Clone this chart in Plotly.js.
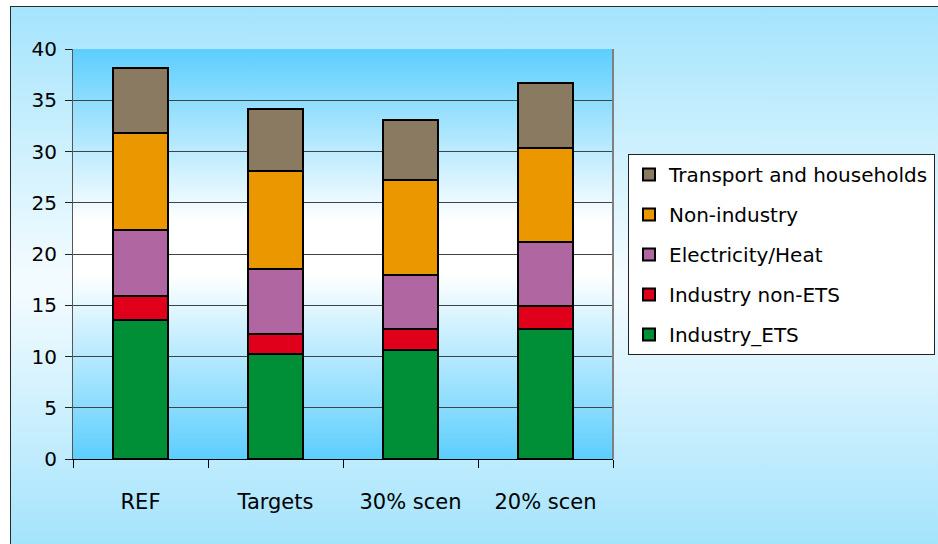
<!DOCTYPE html>
<html>
<head>
<meta charset="utf-8">
<script src="https://cdn.plot.ly/plotly-3.0.1.min.js"></script>
<style>
  html, body { margin: 0; padding: 0; width: 938px; height: 544px; overflow: hidden; background: #ffffff; }
  #frame { position: absolute; left: 10px; top: 6px; width: 940px; height: 550px;
           border: 1px solid #2a2a2a;
           background: linear-gradient(to bottom, #a4e4fc 0%, #f2fbff 48%, #f2fbff 52%, #a0e2fc 100%); }
  #chart { position: absolute; left: 0; top: 0; width: 938px; height: 544px; }
</style>
</head>
<body>
<div id="frame"></div>
<div id="chart"></div>
<script>
const categories = ["REF", "Targets", "30% scen", "20% scen"];
const industryETS = [13.6, 10.2, 10.6, 12.7];
const industryNonETS = [2.3, 2.0, 2.1, 2.2];
const electricityHeat = [6.4, 6.3, 5.3, 6.3];
const nonIndustry = [9.5, 9.6, 9.2, 9.1];
const transportHouseholds = [6.3, 6.0, 5.9, 6.4];

const seriesNames = ["Industry_ETS", "Industry non-ETS", "Electricity/Heat", "Non-industry", "Transport and households"];
const seriesValues = [industryETS, industryNonETS, electricityHeat, nonIndustry, transportHouseholds];
const seriesColors = ["#008f36", "#e1001c", "#b067a1", "#eb9700", "#8a7a61"];

const traces = seriesNames.map((name, i) => ({
  type: "bar",
  name: name,
  x: categories,
  y: seriesValues[i],
  legendgroup: "g" + i,
  legendrank: 1000 - i,
  marker: { color: seriesColors[i], line: { color: "#000000", width: 2 } },
  hoverinfo: "name+y"
}));

const gradSvg = '<svg xmlns="http://www.w3.org/2000/svg" width="100" height="100" preserveAspectRatio="none" viewBox="0 0 100 100">' +
  '<defs><linearGradient id="g" x1="0" y1="0" x2="0" y2="1">' +
  '<stop offset="0" stop-color="#5ccefd"/><stop offset="0.42" stop-color="#ffffff"/>' +
  '<stop offset="0.55" stop-color="#ffffff"/><stop offset="1" stop-color="#5ccefd"/>' +
  '</linearGradient></defs><rect x="0" y="0" width="100" height="100" fill="url(#g)"/></svg>';
const gradUri = "data:image/svg+xml;charset=utf-8," + encodeURIComponent(gradSvg);

const layout = {
  width: 938,
  height: 544,
  margin: { l: 73, r: 325, t: 49, b: 85, pad: 0 },
  paper_bgcolor: "rgba(0,0,0,0)",
  plot_bgcolor: "rgba(0,0,0,0)",
  barmode: "stack",
  bargap: 0.59,
  font: { family: "DejaVu Sans, Verdana, sans-serif", color: "#000000" },
  showlegend: true,
  legend: {
    xref: "container",
    yref: "container",
    x: 628 / 938,
    xanchor: "left",
    y: 1 - 154 / 544,
    yanchor: "top",
    bgcolor: "#ffffff",
    bordercolor: "#222222",
    borderwidth: 1,
    traceorder: "grouped",
    tracegroupgap: 11,
    font: { size: 20, color: "#000000" }
  },
  xaxis: {
    type: "category",
    automargin: false,
    showline: true,
    linecolor: "#000000",
    linewidth: 1,
    ticks: "outside",
    tickson: "boundaries",
    ticklen: 8,
    tickcolor: "#000000",
    tickwidth: 1,
    showgrid: false,
    ticklabelstandoff: 24,
    tickfont: { size: 21, color: "#000000" },
    fixedrange: true
  },
  yaxis: {
    range: [0, 40],
    dtick: 5,
    tick0: 0,
    automargin: false,
    showline: true,
    linecolor: "#555555",
    linewidth: 1,
    ticks: "outside",
    ticklen: 7,
    tickcolor: "#222222",
    showgrid: true,
    gridcolor: "#3f4448",
    gridwidth: 1,
    zeroline: false,
    ticklabelstandoff: 4,
    tickfont: { size: 20, color: "#000000" },
    fixedrange: true
  },
  images: [{
    source: gradUri,
    xref: "x domain", yref: "y domain",
    x: 0, y: 1, sizex: 1, sizey: 1,
    xanchor: "left", yanchor: "top",
    sizing: "stretch",
    layer: "below"
  }],
  shapes: [{
    type: "line",
    xref: "x domain", yref: "y domain",
    x0: 1, x1: 1, y0: 0, y1: 1,
    line: { color: "#808080", width: 2 }
  }]
};

Plotly.newPlot("chart", traces, layout, { displayModeBar: false, staticPlot: true });
</script>
</body>
</html>
